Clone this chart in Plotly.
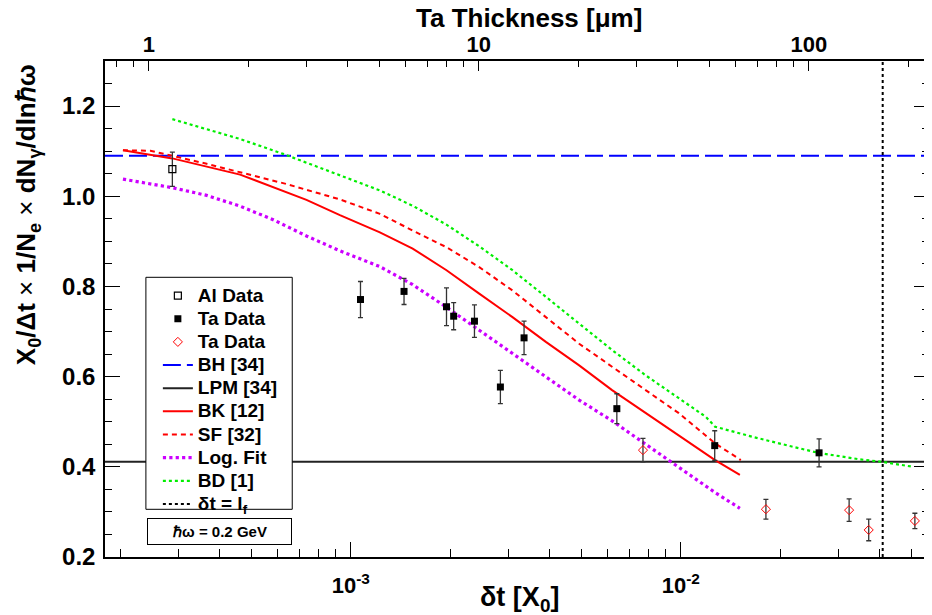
import math
import plotly.graph_objects as go

# ---------------- data ----------------
X_MIN, X_MAX = 1.80e-4, 0.0565          # delta t [X0] axis limits
Y_MIN, Y_MAX = 0.2, 1.3
X0_TA_UM = 4094.0                         # Ta radiation length in micrometres (top axis)

al_dt = [2.88e-4]
al_y = [1.060]
al_err = [0.038]

ta_dt = [1.07e-3, 1.45e-3, 1.95e-3, 2.05e-3, 2.37e-3, 2.84e-3, 3.35e-3, 6.40e-3, 1.267e-2, 2.624e-2]
ta_y = [0.771, 0.789, 0.755, 0.734, 0.723, 0.577, 0.686, 0.529, 0.447, 0.431]
ta_err = [0.040, 0.029, 0.042, 0.030, 0.036, 0.037, 0.037, 0.033, 0.033, 0.031]

ta2_dt = [7.68e-3, 1.811e-2, 3.236e-2, 3.71e-2, 5.12e-2]
ta2_y = [0.437, 0.306, 0.304, 0.260, 0.280]
ta2_err = [0.026, 0.022, 0.025, 0.024, 0.017]

bh_value = 1.090
lpm_value = 0.411
lf_dt = 0.0409

bk_dt = [2.04e-4, 2.88e-4, 4.62e-4, 5.82e-4, 7.34e-4, 9.27e-4, 1.225e-3, 1.54e-3, 1.95e-3,
         2.45e-3, 3.09e-3, 3.90e-3, 4.92e-3, 6.19e-3, 7.82e-3, 1.27e-2, 1.51e-2]
bk_y = [1.102, 1.084, 1.048, 1.020, 0.992, 0.958, 0.920, 0.884, 0.836,
        0.784, 0.732, 0.677, 0.625, 0.570, 0.519, 0.415, 0.382]

sf_dt = [2.04e-4, 2.47e-4, 3.66e-4, 6.40e-4, 9.27e-4, 1.225e-3, 1.54e-3, 1.95e-3, 2.45e-3,
         3.09e-3, 3.90e-3, 4.92e-3, 6.19e-3, 7.82e-3, 9.86e-3, 1.27e-2, 1.52e-2]
sf_y = [1.102, 1.101, 1.072, 1.027, 0.993, 0.961, 0.924, 0.887, 0.843,
        0.791, 0.732, 0.673, 0.622, 0.570, 0.519, 0.452, 0.415]

logfit_dt = [2.04e-4, 2.88e-4, 3.66e-4, 4.62e-4, 5.82e-4, 7.34e-4, 9.27e-4, 1.225e-3, 1.54e-3,
             1.95e-3, 2.45e-3, 3.09e-3, 3.90e-3, 4.92e-3, 6.19e-3, 7.82e-3, 9.86e-3, 1.27e-2, 1.51e-2]
logfit_y = [1.038, 1.019, 1.002, 0.978, 0.948, 0.912, 0.879, 0.844, 0.804,
            0.754, 0.703, 0.651, 0.600, 0.548, 0.502, 0.451, 0.399, 0.343, 0.308]

bd_dt = [2.88e-4, 4.62e-4, 6.24e-4, 8.45e-4, 1.225e-3, 1.54e-3, 1.95e-3, 2.45e-3, 3.09e-3, 3.90e-3,
         4.92e-3, 6.19e-3, 7.82e-3, 9.86e-3, 1.19e-2, 1.27e-2, 1.64e-2, 2.17e-2, 2.61e-2,
         3.45e-2, 4.07e-2, 5.06e-2]
bd_y = [1.171, 1.127, 1.094, 1.057, 1.013, 0.979, 0.937, 0.889, 0.836, 0.777,
        0.718, 0.659, 0.603, 0.552, 0.511, 0.489, 0.467, 0.445, 0.431,
        0.417, 0.411, 0.400]

x_major = [1e-3, 1e-2]
x_major_text = ["10<sup>-3</sup>", "10<sup>-2</sup>"]
x_minor = [2e-4, 3e-4, 4e-4, 5e-4, 6e-4, 7e-4, 8e-4, 9e-4,
           2e-3, 3e-3, 4e-3, 5e-3, 6e-3, 7e-3, 8e-3, 9e-3,
           2e-2, 3e-2, 4e-2, 5e-2]
top_major = [1, 10, 100]
top_major_text = ["1", "10", "100"]
top_minor = [0.8, 0.9, 2, 3, 4, 5, 6, 7, 8, 9, 20, 30, 40, 50, 60, 70, 80, 90, 200]
y_major = [0.2, 0.4, 0.6, 0.8, 1.0, 1.2]
y_major_text = ["0.2", "0.4", "0.6", "0.8", "1.0", "1.2"]
y_minor = [0.25, 0.3, 0.35, 0.45, 0.5, 0.55, 0.65, 0.7, 0.75, 0.85, 0.9, 0.95,
           1.05, 1.1, 1.15, 1.25, 1.3]

legend_names = ["Al Data", "Ta Data", "Ta Data", "BH [34]", "LPM [34]", "BK [12]",
                "SF [32]", "Log. Fit", "BD [1]", "δt = l<sub>f</sub>"]

# ---------------- figure ----------------
OFF = 8                      # page body margin of the browser
W, H = 932 - OFF, 615 - OFF
ML, MR, MT, MB = 97, 1, 53, 58
PW, PH = W - ML - MR, H - MT - MB


def px_x(p):
    """reference window pixel -> paper x"""
    return (p - OFF - ML) / PW


def px_y(p):
    """reference window pixel -> paper y"""
    return (H - MB - (p - OFF)) / PH


FONT = "Liberation Sans, Arial, Helvetica, sans-serif"
err_style = dict(type="data", thickness=1.3, width=2.5, color="#333333")


def lname(i):
    return '<span style="font-size:19px">' + legend_names[i] + "</span>"


fig = go.Figure()

fig.add_trace(go.Scatter(x=[X_MIN, X_MAX], y=[bh_value, bh_value], mode="lines", name=lname(3),
                         line=dict(color="#0000ff", width=2, dash="18px,6px"), legendrank=4))
fig.add_trace(go.Scatter(x=[X_MIN, X_MAX], y=[lpm_value, lpm_value], mode="lines", name=lname(4),
                         line=dict(color="#222222", width=2), legendrank=5))
fig.add_trace(go.Scatter(x=bk_dt, y=bk_y, mode="lines", name=lname(5),
                         line=dict(color="#ff0000", width=2), legendrank=6))
fig.add_trace(go.Scatter(x=sf_dt, y=sf_y, mode="lines", name=lname(6),
                         line=dict(color="#ff0000", width=2, dash="5px,4px"), legendrank=7))
fig.add_trace(go.Scatter(x=logfit_dt, y=logfit_y, mode="lines", name=lname(7),
                         line=dict(color="#cc00ff", width=3.2, dash="dot"), legendrank=8))
fig.add_trace(go.Scatter(x=bd_dt, y=bd_y, mode="lines", name=lname(8),
                         line=dict(color="#00ee00", width=2.2, dash="dot"), legendrank=9))
fig.add_trace(go.Scatter(x=[lf_dt, lf_dt], y=[Y_MIN, Y_MAX], mode="lines", name=lname(9),
                         line=dict(color="#000000", width=2, dash="dot"), legendrank=10))

fig.add_trace(go.Scatter(x=al_dt, y=al_y, mode="markers", name=lname(0),
                         marker=dict(symbol="square-open", size=7, color="#000000", line=dict(width=1.2)),
                         error_y=dict(array=al_err, **err_style), legendrank=1))
fig.add_trace(go.Scatter(x=ta_dt, y=ta_y, mode="markers", name=lname(1),
                         marker=dict(symbol="square", size=7, color="#000000"),
                         error_y=dict(array=ta_err, **err_style), legendrank=2))
fig.add_trace(go.Scatter(x=ta2_dt, y=ta2_y, mode="markers", name=lname(2),
                         marker=dict(symbol="diamond-open", size=7, color="#ff0000", line=dict(width=1)),
                         error_y=dict(array=ta2_err, **err_style), legendrank=3))

# carrier for the top (Ta thickness) axis: no visible marks
fig.add_trace(go.Scatter(x=[X_MIN * X0_TA_UM, X_MAX * X0_TA_UM], y=[None, None], xaxis="x2",
                         mode="lines", showlegend=False, hoverinfo="skip"))

fig.update_layout(
    width=W, height=H,
    margin=dict(l=ML, r=MR, t=MT, b=MB, pad=0),
    plot_bgcolor="#ffffff", paper_bgcolor="#ffffff",
    font=dict(family=FONT, color="#000000"),
    showlegend=True,
    xaxis=dict(
        type="log", range=[math.log10(X_MIN), math.log10(X_MAX)],
        tickmode="array", tickvals=x_major, ticktext=x_major_text,
        ticks="inside", ticklen=15, tickwidth=1.2, tickcolor="#000000",
        showline=True, mirror=True, linecolor="#000000", linewidth=1.5,
        showgrid=False, zeroline=False,
        tickfont=dict(family=FONT, size=22, weight="bold"), ticklabelstandoff=8,
        minor=dict(tickmode="array", tickvals=x_minor, ticks="inside", ticklen=8,
                   tickwidth=1, tickcolor="#000000", showgrid=False),
    ),
    xaxis2=dict(
        type="log", overlaying="x", side="top", anchor="y",
        range=[math.log10(X_MIN * X0_TA_UM), math.log10(X_MAX * X0_TA_UM)],
        tickmode="array", tickvals=top_major, ticktext=top_major_text,
        ticks="inside", ticklen=10, tickwidth=1.2, tickcolor="#000000",
        showline=False, showgrid=False, zeroline=False,
        tickfont=dict(family=FONT, size=22, weight="bold"), ticklabelstandoff=4,
        minor=dict(tickmode="array", tickvals=top_minor, ticks="inside", ticklen=6,
                   tickwidth=1, tickcolor="#000000", showgrid=False),
    ),
    yaxis=dict(
        range=[Y_MIN, Y_MAX], tickmode="array", tickvals=y_major, ticktext=y_major_text,
        ticks="inside", ticklen=15, tickwidth=1.2, tickcolor="#000000",
        showline=True, mirror="ticks", linecolor="#000000", linewidth=1.5,
        showgrid=False, zeroline=False,
        tickfont=dict(family=FONT, size=24, weight="bold"), ticklabelstandoff=3,
        minor=dict(tickmode="array", tickvals=y_minor, ticks="inside", ticklen=7,
                   tickwidth=1, tickcolor="#000000", showgrid=False),
    ),
    legend=dict(
        x=px_x(158), y=px_y(279), xanchor="left", yanchor="top",
        bgcolor="rgba(0,0,0,0)", borderwidth=0,
        font=dict(family=FONT, size=15.5, weight="bold", color="#000000"),
        traceorder="normal", itemclick=False,
    ),
    shapes=[
        dict(type="rect", xref="paper", yref="paper", layer="above",
             x0=px_x(146), x1=px_x(292.7), y0=px_y(509.3), y1=px_y(277.3),
             line=dict(color="#000000", width=1), fillcolor="#ffffff"),
    ],
    annotations=[
        dict(text="<b>Ta Thickness [μm]</b>", xref="paper", yref="paper",
             x=px_x(530), y=px_y(18), xanchor="center", yanchor="middle", showarrow=False,
             font=dict(family=FONT, size=26)),
        dict(text="<b>δt [X<sub>0</sub>]</b>", xref="paper", yref="paper",
             x=px_x(521), y=px_y(599), xanchor="center", yanchor="middle", showarrow=False,
             font=dict(family=FONT, size=27)),
        dict(text="<b>X<sub>0</sub>/Δt</b> × <b>1/N<sub>e</sub></b> × <b>dN<sub>γ</sub>/dlnℏω</b>",
             xref="paper", yref="paper", textangle=-90,
             x=px_x(28), y=px_y(215), xanchor="center", yanchor="middle", showarrow=False,
             font=dict(family=FONT, size=26)),
        dict(text="<b>ℏω = 0.2 GeV</b>", xref="paper", yref="paper",
             x=px_x(219.3), y=px_y(531), xanchor="center", yanchor="middle", showarrow=False,
             width=143, height=25, borderpad=0, bordercolor="#000000", borderwidth=1,
             bgcolor="#ffffff", font=dict(family=FONT, size=15)),
    ],
)

fig.write_html("out.html")
